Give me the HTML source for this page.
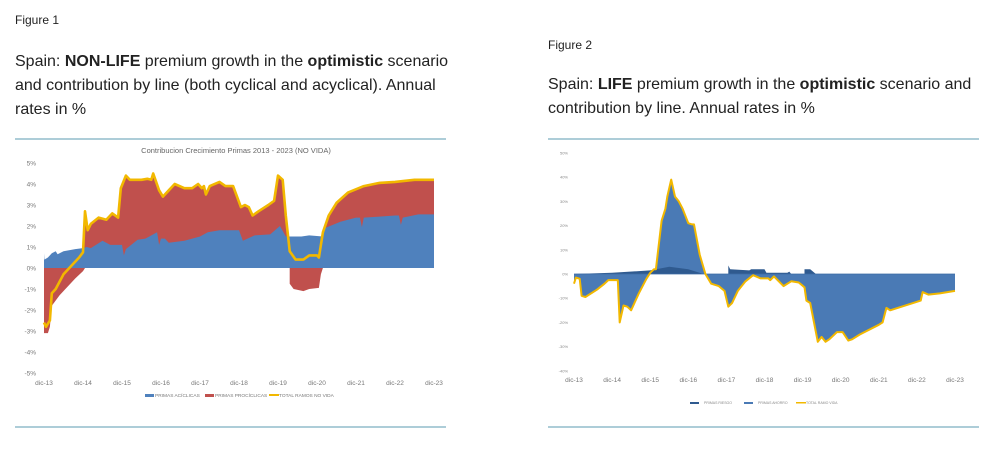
<!DOCTYPE html>
<html><head><meta charset="utf-8">
<style>
html,body{margin:0;padding:0;background:#fff;width:1006px;height:456px;overflow:hidden;font-family:"Liberation Sans",sans-serif;}
.t{position:absolute;color:#222;white-space:nowrap;}
</style></head>
<body>
<div class="t" style="left:15px;top:13px;font-size:12px;">Figure 1</div>
<div class="t" style="left:15px;top:50px;font-size:16px;line-height:24px;">Spain: <b>NON-LIFE</b> premium growth in the <b>optimistic</b> scenario<br>and contribution by line (both cyclical and acyclical). Annual<br>rates in %</div>
<div class="t" style="left:548px;top:38px;font-size:12px;">Figure 2</div>
<div class="t" style="left:548px;top:73px;font-size:16px;line-height:24px;">Spain: <b>LIFE</b> premium growth in the <b>optimistic</b> scenario and<br>contribution by line. Annual rates in %</div>
<svg id="s" width="1006" height="456" style="position:absolute;left:0;top:0" xmlns="http://www.w3.org/2000/svg"></svg>
<script>
const S=document.getElementById('s');let h='';
h+='<line x1="15" y1="139" x2="446" y2="139" stroke="#5b9bb0" stroke-width="1"/><line x1="15" y1="427" x2="446" y2="427" stroke="#5b9bb0"/>';
h+='<line x1="548" y1="139" x2="979" y2="139" stroke="#5b9bb0"/><line x1="548" y1="427" x2="979" y2="427" stroke="#5b9bb0"/>';
// left chart
const LX=t=>44+t*39, LY=v=>268-v*21;
h+='<text x="236" y="153" font-size="7.5" fill="#666" text-anchor="middle">Contribucion Crecimiento Primas 2013 - 2023 (NO VIDA)</text>';
for(let v=5;v>=-5;v--){h+=`<text x="36" y="${LY(v)+2.5}" font-size="6.5" fill="#777" text-anchor="end">${v}%</text>`;}
for(let i=0;i<=10;i++){h+=`<text x="${LX(i)}" y="385" font-size="6.5" fill="#777" text-anchor="middle">dic-${13+i}</text>`;}
const tot=[[0,-2.6],[0.05,-2.8],[0.15,-2.5],[0.2,-1.2],[0.3,-1.0],[0.5,-0.3],[0.7,0.1],[0.9,0.5],[1.0,0.75],[1.05,2.7],[1.12,1.8],[1.2,2.1],[1.4,2.4],[1.6,2.3],[1.75,2.6],[1.9,2.4],[1.97,3.8],[2.1,4.4],[2.2,4.2],[2.5,4.2],[2.65,4.25],[2.75,4.2],[2.8,4.5],[2.95,3.7],[3.05,3.4],[3.2,3.7],[3.35,4.0],[3.6,3.8],[3.8,3.8],[3.95,4.0],[4.05,3.8],[4.1,3.9],[4.15,3.5],[4.25,3.9],[4.5,4.1],[4.65,3.9],[4.85,3.9],[5.05,2.9],[5.15,3.0],[5.25,2.9],[5.35,2.5],[5.5,2.7],[5.75,3.0],[5.9,3.2],[6.0,4.4],[6.12,4.2],[6.2,2.5],[6.3,0.8],[6.45,0.4],[6.65,0.4],[6.8,0.6],[7.0,0.6],[7.05,0.5],[7.15,1.7],[7.3,2.5],[7.5,3.1],[7.8,3.6],[8.2,3.9],[8.6,4.05],[9.0,4.1],[9.5,4.2],[10,4.2]];
const blue=[[0,0.7],[0.01,0.4],[0.1,0.5],[0.2,0.7],[0.3,0.8],[0.35,0.65],[0.5,0.8],[0.8,0.9],[1.0,0.95],[1.1,1.0],[1.2,0.95],[1.5,1.3],[1.7,1.1],[2.0,1.1],[2.05,0.6],[2.1,0.9],[2.4,1.35],[2.6,1.4],[2.9,1.7],[2.95,1.1],[3.0,1.4],[3.1,1.4],[3.2,1.2],[3.6,1.3],[4.0,1.5],[4.2,1.7],[4.5,1.8],[5.0,1.8],[5.1,1.3],[5.4,1.55],[5.8,1.6],[6.05,2.0],[6.2,1.5],[6.6,1.5],[6.8,1.55],[7.15,1.5],[7.2,1.9],[7.6,2.2],[8.0,2.4],[8.1,2.4],[8.15,1.95],[8.2,2.4],[8.6,2.45],[9.0,2.5],[9.1,2.5],[9.15,2.05],[9.2,2.4],[9.6,2.55],[10,2.55]];
const redNeg=[[0,-3.1],[0.1,-3.1],[0.15,-2.8],[0.2,-1.8],[0.4,-1.3],[0.6,-0.9],[0.8,-0.5],[1.0,-0.15],[1.05,0]];
const redNeg2=[[6.3,0],[6.3,-0.75],[6.4,-1.0],[6.65,-1.1],[6.8,-1.0],[7.05,-0.95],[7.1,-0.3],[7.15,0]];
const pts=(a,fx,fy)=>a.map(p=>fx(p[0]).toFixed(1)+','+fy(p[1]).toFixed(1)).join(' ');
const area=(a,fx,fy,z)=>`${fx(a[0][0])},${fy(z)} `+pts(a,fx,fy)+` ${fx(a[a.length-1][0])},${fy(z)}`;
const totPos=tot.map(p=>[p[0],Math.max(0,p[1])]);
h+=`<polygon points="${area(totPos,LX,LY,0)}" fill="#c0504d"/>`;
h+=`<polygon points="${area(redNeg,LX,LY,0)}" fill="#c0504d"/>`;
h+=`<polygon points="${area(redNeg2,LX,LY,0)}" fill="#c0504d"/>`;
h+=`<polygon points="${area(blue,LX,LY,0)}" fill="#4f81bd"/>`;
h+=`<polyline points="${pts(tot,LX,LY)}" fill="none" stroke="#f2b800" stroke-width="2.6" stroke-linejoin="round"/>`;
h+='<rect x="145" y="394" width="9" height="3" fill="#4f81bd"/><text x="155" y="397" font-size="4.8" fill="#777">PRIMAS ACÍCLICAS</text>';
h+='<rect x="205" y="394" width="9" height="3" fill="#c0504d"/><text x="215" y="397" font-size="4.8" fill="#777">PRIMAS PROCÍCLICAS</text>';
h+='<rect x="269" y="394" width="10" height="2" fill="#f2b800"/><text x="279" y="397" font-size="4.8" fill="#777">TOTAL RAMOS NO VIDA</text>';
// right chart
const RX=t=>574+t*38.1, RY=v=>274-v*2.42;
for(let v=50;v>=-40;v-=10){h+=`<text x="568" y="${RY(v)+1.5}" font-size="4" fill="#888" text-anchor="end">${v}%</text>`;}
for(let i=0;i<=10;i++){h+=`<text x="${RX(i)}" y="382" font-size="6.5" fill="#777" text-anchor="middle">dic-${13+i}</text>`;}
const T2=[[0,-4],[0.05,-1.5],[0.15,-2],[0.2,-9],[0.3,-9.5],[0.6,-6.5],[0.8,-4],[0.9,-2.5],[1.15,-2.5],[1.2,-20],[1.3,-13],[1.4,-13.5],[1.5,-15],[1.7,-8],[1.9,-2],[2.0,0.5],[2.1,2],[2.15,2],[2.3,22],[2.4,27],[2.45,32],[2.55,39],[2.65,32],[2.75,30],[2.85,27],[3.0,21],[3.1,20.5],[3.15,20.5],[3.3,8],[3.45,0],[3.6,-4],[3.8,-5],[3.95,-7],[4.05,-13.5],[4.15,-12],[4.3,-7],[4.5,-3],[4.7,-0.5],[4.9,-1.8],[5.1,-1.8],[5.15,-2.5],[5.25,-1],[5.5,-5],[5.7,-3],[5.9,-3.5],[6.05,-5.5],[6.1,-11],[6.2,-12],[6.3,-20],[6.4,-28],[6.5,-26],[6.6,-28],[6.7,-27],[6.9,-24],[7.05,-24],[7.2,-27.5],[7.3,-27],[7.5,-25],[8.0,-21],[8.1,-20],[8.2,-14],[8.3,-15],[9.0,-11.5],[9.1,-11],[9.15,-7.5],[9.3,-8.5],[9.6,-8],[10,-7]];
h+=`<polygon points="${area(T2,RX,RY,0)}" fill="#4a7ab5"/>`;
const dk=[[0,0],[1,0.5],[2,1.5],[2.5,3],[3,2],[3.4,0],[4.05,0],[4.05,3.5],[4.1,2],[4.6,1.5],[4.65,2],[5.0,2],[5.05,0.5],[5.6,0.5],[5.65,1],[5.7,0],[6.05,0],[6.05,2],[6.2,2],[6.35,0]];
h+=`<polygon points="${area(dk,RX,RY,0)}" fill="#2f5a8f"/>`;
h+=`<line x1="574" y1="${RY(0)}" x2="955" y2="${RY(0)}" stroke="#3d6ba5" stroke-width="0.8"/>`;
h+=`<polyline points="${pts(T2,RX,RY)}" fill="none" stroke="#f2b800" stroke-width="2" stroke-linejoin="round"/>`;
h+='<rect x="690" y="402" width="9" height="2" fill="#2f5a8f"/><text x="704" y="404" font-size="3.5" fill="#888">PRIMAS RIESGO</text>';
h+='<rect x="744" y="402" width="9" height="2" fill="#4a7ab5"/><text x="758" y="404" font-size="3.5" fill="#888">PRIMAS AHORRO</text>';
h+='<rect x="796" y="402" width="10" height="1.5" fill="#f2b800"/><text x="806" y="404" font-size="3.5" fill="#888">TOTAL RAMO VIDA</text>';
S.innerHTML=h;
</script>
</body></html>
